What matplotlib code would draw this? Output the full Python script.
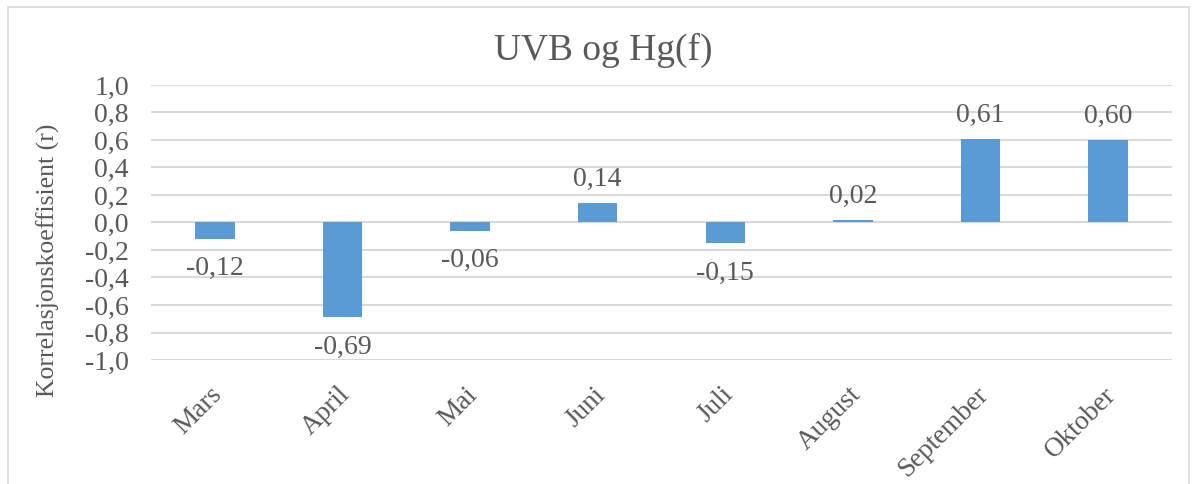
import matplotlib
matplotlib.use("Agg")
import matplotlib.pyplot as plt
from matplotlib.patches import Rectangle
from matplotlib.transforms import ScaledTranslation

months = ["Mars", "April", "Mai", "Juni", "Juli", "August", "September", "Oktober"]
r_values = [-0.12, -0.69, -0.06, 0.14, -0.15, 0.02, 0.61, 0.60]
y_ticks = [-1.0, -0.8, -0.6, -0.4, -0.2, 0.0, 0.2, 0.4, 0.6, 0.8, 1.0]

plt.rcParams["font.family"] = ["Liberation Serif", "DejaVu Serif"]
text_color = "#595959"
bar_color = "#5B9BD5"
grid_color = "#d9d9d9"

fig = plt.figure(figsize=(11.94, 4.84), dpi=100)
ax = fig.add_axes([151 / 1194, 1 - 360 / 484, (1172 - 151) / 1194, (360 - 85) / 484])

# outer chart frame
fig.patches.append(Rectangle((8 / 1194, -0.05), (1189 - 8) / 1194, 1.05 - 7 / 484,
                             transform=fig.transFigure, fill=False,
                             edgecolor="#d9d9d9", linewidth=1.2))

x = list(range(len(months)))
ax.bar(x, r_values, width=0.31, color=bar_color, zorder=3)

ax.set_xlim(-0.5, len(months) - 0.5)
ax.set_ylim(-1.0, 1.0)
ax.set_yticks(y_ticks)
ax.set_yticklabels([f"{v:.1f}".replace(".", ",") for v in y_ticks],
                   fontsize=20, color=text_color)
ax.yaxis.grid(True, color=grid_color, linewidth=1.5, zorder=0)
ax.set_axisbelow(True)
ax.tick_params(axis="both", length=0)
ax.tick_params(axis="y", pad=16)
for s in ax.spines.values():
    s.set_visible(False)

ax.set_xticks(x)
ax.set_xticklabels(months, rotation=45, ha="right", rotation_mode="anchor",
                   fontsize=19.5, color=text_color)
ax.tick_params(axis="x", pad=16)
shift = ScaledTranslation(-5 / 100, 0, fig.dpi_scale_trans)
for lbl in ax.get_xticklabels():
    lbl.set_transform(lbl.get_transform() + shift)

for xi, v in zip(x, r_values):
    label = f"{v:.2f}".replace(".", ",")
    if v >= 0:
        ax.annotate(label, (xi, v), xytext=(0, 8), textcoords="offset points",
                    ha="center", va="bottom", fontsize=20, color=text_color)
    else:
        ax.annotate(label, (xi, v), xytext=(0, -12.5), textcoords="offset points",
                    ha="center", va="top", fontsize=20, color=text_color)

ax.set_ylabel("Korrelasjonskoeffisient (r)", fontsize=18.5, color=text_color)
ax.yaxis.set_label_coords(60 / 1194, 1 - 260 / 484, transform=fig.transFigure)
fig.text(603 / 1194, 1 - 50 / 484, "UVB og Hg(f)", ha="center", va="center",
         fontsize=27, color=text_color)

fig.savefig("out.png", dpi=100, facecolor="white")
